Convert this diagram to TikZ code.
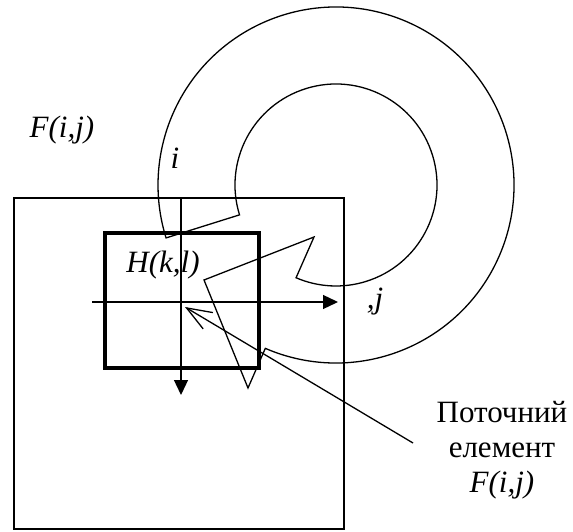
\documentclass[tikz,border=0pt]{standalone}
\usepackage{fontspec}
\setmainfont{Liberation Serif}
\usetikzlibrary{arrows.meta,calc}
\tikzset{
  ring/.style={draw=black,line width=1.3pt,line join=miter},
  frame/.style={draw=black,line width=1.3pt},
  win/.style={draw=black,line width=3.2pt},
  axis/.style={-{Triangle[length=15pt,width=14pt]},line width=1.3pt},
  ptr/.style={-{Straight Barb[length=25pt,width=19pt]},line width=1.3pt},
  lbl/.style={font=\fontsize{31}{35}\selectfont,inner sep=0pt,align=center},
}

\begin{document}
\begin{tikzpicture}[x=1pt,y=1pt]
\useasboundingbox (0,0) rectangle (573,531);
\coordinate (c) at (336,346);
% image F and window H
\draw[frame] (14,2) rectangle (344,333);
\draw[win] (105,163) rectangle (259,298);
% rotating ring
\draw[ring] ($(c)+(-113.3:101)$) -- (314,294) -- (204,251) -- (248,143)
  -- ($(c)+(246.6:178)$) arc[start angle=246.6,end angle=557.3,radius=178]
  -- ($(c)+(197.2:101)$) arc[start angle=197.2,end angle=-113.3,radius=101]
  -- cycle;
% axes
\coordinate (itop) at (181,333);
\coordinate (ibot) at (181,136);
\coordinate (jleft) at (92,229);
\coordinate (jright) at (338,229);
\draw[axis] (itop) -- (ibot);
\draw[axis] (jleft) -- (jright);
% labels
\node[lbl] (fij) at (62,401) {\textit{F(i,j)}};
\node[lbl] (ilab) at (175,373) {\textit{i}};
\node[lbl] (hkl) at (163,266) {\textit{H(k,l)}};
\node[lbl] (jlab) at (375,229) {\textit{,j}};
\node[lbl] (cur) at (502,81) {Поточний\\елемент\\\textit{F(i,j)}};
% pointer to current element
\coordinate (tail) at (413,88);
\coordinate (tip) at (185,224);
\draw[ptr] (tail) -- (tip);
\end{tikzpicture}
\end{document}
